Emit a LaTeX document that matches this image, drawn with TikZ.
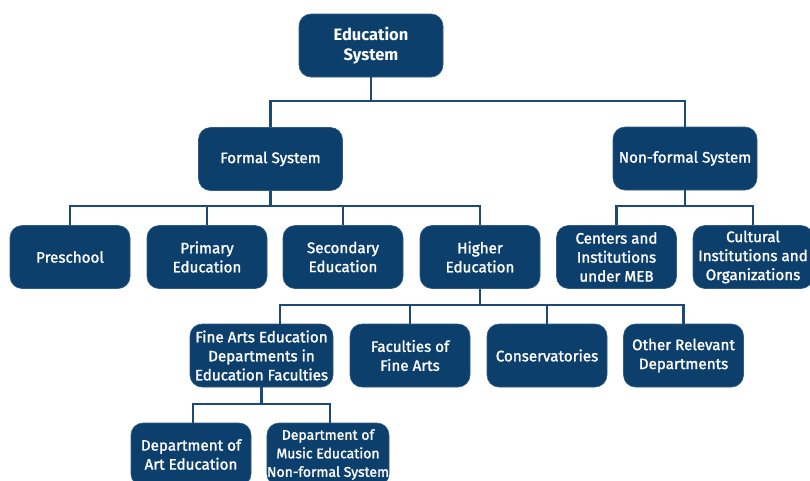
\documentclass[tikz,border=0pt]{standalone}
\usepackage{fontspec}
\setmainfont{Fira Sans}
\newfontfamily\boxfont{Fira Sans}[FakeBold=1.5]
\definecolor{boxblue}{HTML}{0D3F6C}
\definecolor{linkblue}{HTML}{1B4A78}
\begin{document}
\begin{tikzpicture}[x=1pt,y=-1pt,
  box/.style={fill=boxblue,draw=boxblue!85!white,line width=0.6pt,rounded corners=12pt,
    text=white,align=center,inner sep=0pt,minimum height=63pt,
    font=\boxfont\fontsize{15.2}{19}\selectfont},
  wbox/.style={box,minimum width=144pt},
  nbox/.style={box,minimum width=120pt},
  link/.style={draw=linkblue,line width=2.4pt}]
\useasboundingbox (0,0) rectangle (810,480);

% bus levels for the tree links
\coordinate (c0) at (371,101);
\coordinate (c1) at (0,206);
\coordinate (c2) at (0,305);
\coordinate (c3) at (0,404);

% nodes
\node[wbox,font=\rmfamily\bfseries\fontsize{16.5}{20}\selectfont] (edu) at (371,45.5) {Education\\System};
\node[wbox] (formal) at (270.5,159) {Formal System};
\node[wbox] (nonformal) at (685,158.5) {Non-formal System};

\node[nbox] (pre) at (70,257) {Preschool};
\node[nbox] (prim) at (207,257) {Primary\\Education};
\node[nbox] (sec) at (343,257) {Secondary\\Education};
\node[nbox] (high) at (480,257) {Higher\\Education};
\node[nbox] (cent) at (616.5,257) {Centers and\\Institutions\\under MEB};
\node[nbox] (cult) at (753,257) {Cultural\\Institutions and\\Organizations};

\node[box,minimum width=143pt] (fine) at (261.5,355.5) {Fine Arts Education\\Departments in\\Education Faculties};
\node[nbox] (fac) at (410,355.5) {Faculties of\\Fine Arts};
\node[nbox] (cons) at (547,355.5) {Conservatories};
\node[nbox] (oth) at (683.5,355.5) {Other Relevant\\Departments};

\node[nbox] (art) at (191,454.5) {Department of\\Art Education};
\node[nbox,font=\boxfont\fontsize{14}{18.5}\selectfont] (mus) at (328,454.5) {Department of\\Music Education\\Non-formal System};

% tree links
\begin{scope}[link]
\draw (edu.south) -- (edu.south |- c0);
\draw (edu.south |- c0) -| (formal.north);
\draw (edu.south |- c0) -| (nonformal.north);

\draw (formal.south) -- (formal.south |- c1);
\foreach \n in {pre,prim,sec,high}
  \draw (formal.south |- c1) -| (\n.north);

\draw (nonformal.south) -- (nonformal.south |- c1);
\foreach \n in {cent,cult}
  \draw (nonformal.south |- c1) -| (\n.north);

\draw (high.south) -- (high.south |- c2);
\draw (high.south |- c2) -| ([xshift=18.5pt]fine.north);
\foreach \n in {fac,cons,oth}
  \draw (high.south |- c2) -| (\n.north);

\draw (fine.south) -- (fine.south |- c3);
\foreach \n in {art,mus}
  \draw (fine.south |- c3) -| ([xshift=2pt]\n.north);
\end{scope}
\end{tikzpicture}
\end{document}
